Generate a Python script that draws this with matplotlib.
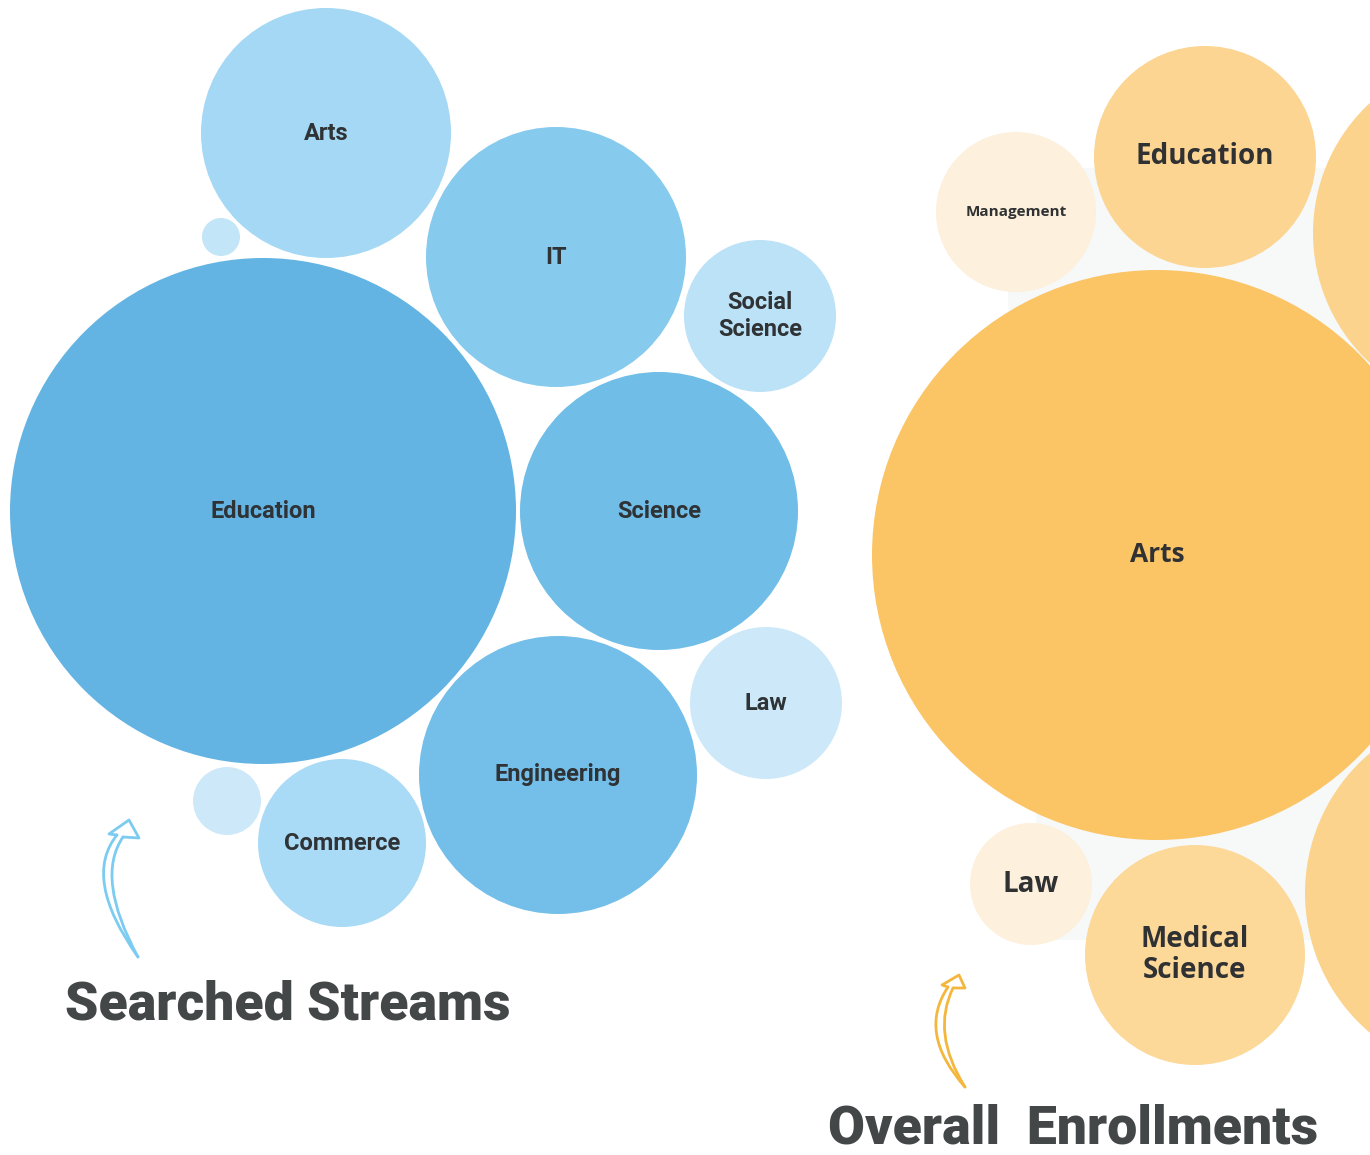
import matplotlib.pyplot as plt
from matplotlib.patches import Circle, Polygon, PathPatch
from matplotlib.path import Path

# Searched streams (blue cluster) - centre x, centre y, radius in pixels
blue_labels = ["Arts", "", "IT", "Social\nScience", "Education", "Science",
               "Law", "Engineering", "", "Commerce"]
blue_x = [326, 221, 556, 760, 263, 659, 766, 558, 227, 342]
blue_y = [133, 237, 257, 316, 511, 511, 703, 775, 801, 843]
blue_r = [125, 19, 130, 76, 253, 139, 76, 139, 34, 84]
blue_colors = ["#a4d8f4", "#c3e5f8", "#86caee", "#bce2f7", "#63b4e3", "#70bde8",
               "#cde9f9", "#74bfe9", "#cde9f9", "#a9daf6"]

# Overall enrollments (orange cluster)
orange_labels = ["Management", "Education", "", "Arts", "", "Law", "Medical\nScience"]
orange_x = [1016, 1205, 1490, 1157, 1488, 1031, 1195]
orange_y = [212, 157, 233, 555, 893, 884, 955]
orange_r = [80, 111, 177, 285, 183, 61, 110]
orange_colors = ["#fdf0dc", "#fcd592", "#fcd38d", "#fbc566", "#fcd38d", "#fdf0dc", "#fcd899"]
orange_sizes = [11, 20, 20, 19, 20, 20, 20]

W, H = 1370, 1155
fig = plt.figure(figsize=(W / 100, H / 100), dpi=100)
ax = fig.add_axes([0, 0, 1, 1])
ax.set_xlim(0, W)
ax.set_ylim(H, 0)
ax.axis("off")

# faint backdrop behind the orange pack
ax.add_patch(Polygon([(1010, 168), (1380, 168), (1380, 940), (1048, 940),
                      (1036, 820), (1008, 300)],
                     closed=True, fc="#f7f8f8", ec="none", zorder=0))

for lab, x, y, r, c in zip(blue_labels, blue_x, blue_y, blue_r, blue_colors):
    ax.add_patch(Circle((x, y), r, fc=c, ec="none", zorder=1))
    if lab:
        ax.text(x, y, lab, ha="center", va="center", fontsize=17, fontweight="bold",
                family="Roboto", color="#2f3336", linespacing=1.2, zorder=3)

for lab, x, y, r, c, s in zip(orange_labels, orange_x, orange_y, orange_r,
                              orange_colors, orange_sizes):
    ax.add_patch(Circle((x, y), r, fc=c, ec="none", zorder=1))
    if lab:
        ax.text(x, y, lab, ha="center", va="center", fontsize=s, fontweight="bold",
                family="Open Sans", color="#2f3133", linespacing=1.05, zorder=3)


def hand_arrow(outer, inner, head, color):
    for p0, c, p1 in (outer, inner):
        path = Path([p0, c, p1], [Path.MOVETO, Path.CURVE3, Path.CURVE3])
        ax.add_patch(PathPatch(path, fc="none", ec=color, lw=2.0, capstyle="round", zorder=4))
    hx, hy = zip(*head)
    ax.plot(hx, hy, color=color, lw=2.0, solid_joinstyle="round", solid_capstyle="round", zorder=4)


hand_arrow(((138, 957), (82, 878), (117, 835)),
           ((138, 957), (95, 878), (123, 837)),
           [(117, 835), (109, 834), (129, 820), (139, 838), (123, 837)], "#7ccbf0")
hand_arrow(((965, 1087), (917, 1033), (948, 987)),
           ((965, 1087), (931, 1033), (953, 988)),
           [(948, 987), (942, 985), (959, 975), (965, 988), (953, 988)], "#f4b73e")

ax.text(65, 1019, "Searched Streams", ha="left", va="baseline", fontsize=38.5,
        fontweight="black", family="Roboto", color="#444748")
ax.text(828, 1154, "Overall  Enrollments", ha="left", va="bottom", fontsize=38.5,
        fontweight="black", family="Roboto", color="#444748")

fig.savefig("out.png", dpi=100)
